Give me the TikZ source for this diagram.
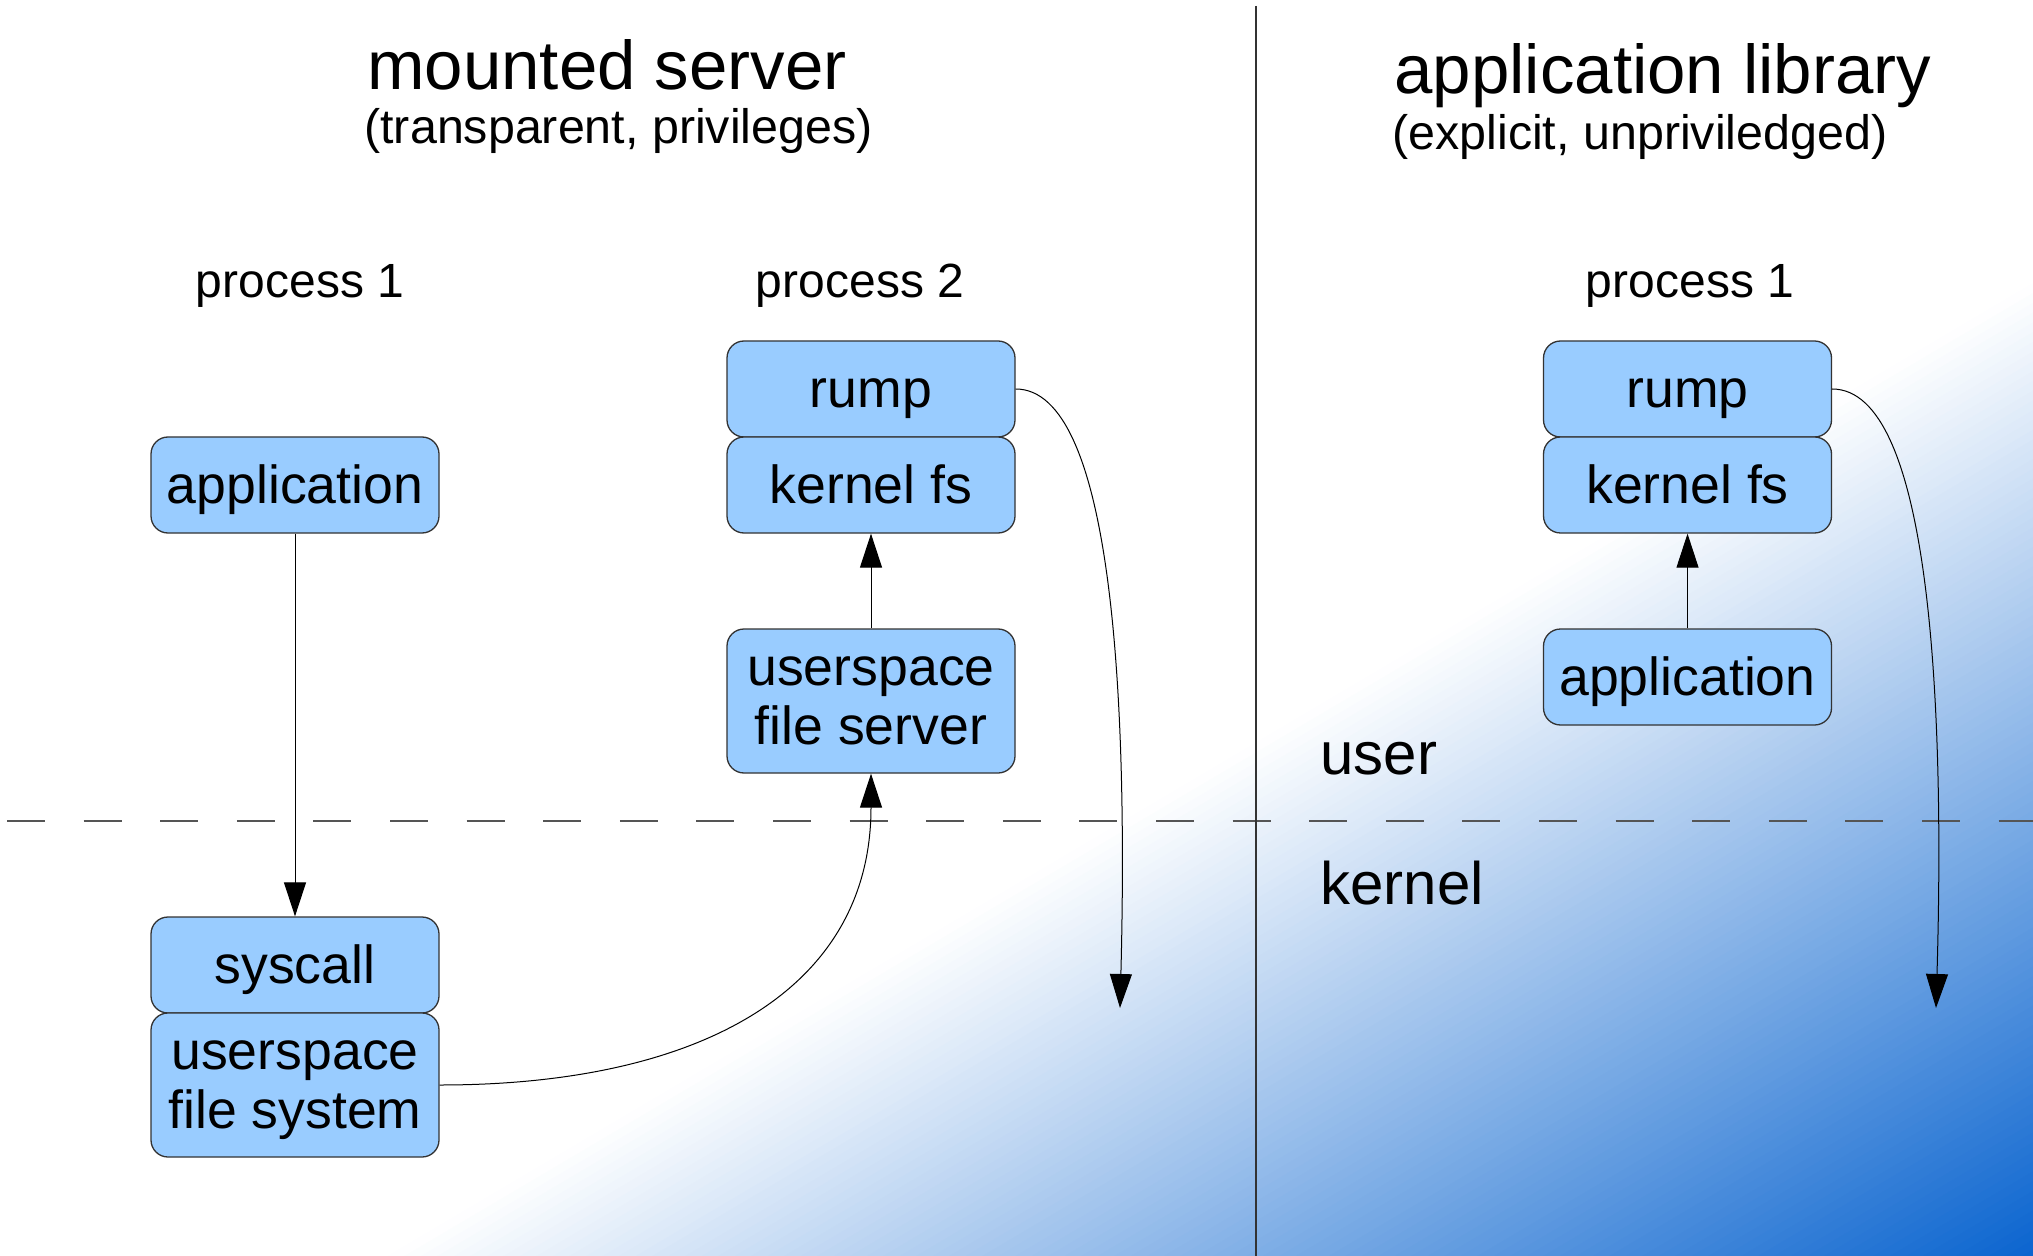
\documentclass[tikz,border=0pt]{standalone}
\usepackage{fontspec}
\setmainfont{Liberation Sans}
\usetikzlibrary{arrows.meta}
\definecolor{boxfill}{HTML}{99CCFF}
\definecolor{boxline}{HTML}{333333}
\definecolor{gblue}{RGB}{10,100,207}
\definecolor{dashgray}{HTML}{555555}
\begin{document}
\begin{tikzpicture}[x=0.5pt,y=-0.5pt,
  box/.style={draw=boxline, line width=0.65pt, fill=boxfill, rounded corners=8.5pt,
    minimum width=144pt, inner sep=0pt, align=center,
    font=\fontsize{26.8}{29.5}\selectfont},
  box1/.style={box, minimum height=48pt, text height=22.5pt, text depth=4.3pt},
  box2/.style={box, minimum height=72pt},
  conn/.style={draw=black, line width=0.5pt},
  arr/.style={conn, -{Triangle[length=17pt,width=11pt]}},
  title/.style={anchor=base west, inner sep=0pt, font=\fontsize{34.5}{40}\selectfont},
  subtitle/.style={anchor=base west, inner sep=0pt, font=\fontsize{24.2}{28}\selectfont},
  proc/.style={anchor=base, inner sep=0pt, font=\fontsize{24}{28}\selectfont},
  layer/.style={anchor=base west, inner sep=0pt, font=\fontsize{30}{34}\selectfont}
]
\useasboundingbox (0,0) rectangle (2033,1256);
\fill[white] (0,0) rectangle (2033,1256);

% diagonal gradient (white -> blue towards lower right)
\begin{scope}
\clip (0,0) rectangle (2033,1256);
\foreach \i in {0,...,99} {
  \pgfmathsetmacro\gda{\i*8.4}
  \pgfmathsetmacro\gdb{\i==99 ? 1100 : (\i+1)*8.4+0.8}
  \pgfmathsetmacro\gpc{\i+0.5}
  \pgfmathsetmacro\pAx{446.6+0.509*\gda-1894}
  \pgfmathsetmacro\pAy{1221.6+0.8608*\gda+1120}
  \pgfmathsetmacro\pBx{446.6+0.509*\gda+1894}
  \pgfmathsetmacro\pBy{1221.6+0.8608*\gda-1120}
  \pgfmathsetmacro\pCx{446.6+0.509*\gdb+1894}
  \pgfmathsetmacro\pCy{1221.6+0.8608*\gdb-1120}
  \pgfmathsetmacro\pDx{446.6+0.509*\gdb-1894}
  \pgfmathsetmacro\pDy{1221.6+0.8608*\gdb+1120}
  \fill[gblue!\gpc!white] (\pAx,\pAy) -- (\pBx,\pBy) -- (\pCx,\pCy) -- (\pDx,\pDy) -- cycle;
}
\end{scope}

% separators
\coordinate (dl) at (7,821);
\coordinate (dr) at (2033,821);
\coordinate (vt) at (1256,6);
\coordinate (vb) at (1256,1256);
\draw[dashgray, line width=0.65pt, dash pattern=on 19pt off 19.3pt] (dl) -- (dr);
\draw[black!80, line width=0.55pt] (vt) -- (vb);

% titles
\node[title] (t1) at (367,90) {mounted server};
\node[subtitle] (s1) at (364,144) {(transparent, privileges)};
\node[title] (t2) at (1394,94) {application library};
\node[subtitle] (s2) at (1392,150) {(explicit, unpriviledged)};

\node[proc] (p1) at (300,298) {process 1};
\node[proc] (p2) at (860,298) {process 2};
\node[proc] (p3) at (1690,298) {process 1};

\node[layer] (user) at (1320,774) {user};
\node[layer] (kern) at (1320,904) {kernel};

% boxes
\node[box1] (app1) at (295,485) {application};
\node[box1] (sys) at (295,965) {syscall};
\node[box2] (ufs) at (295,1085) {\vphantom{fy}userspace\\file system\vphantom{y}};

\node[box1] (rump2) at (871,389) {rump};
\node[box1] (kfs2) at (871,485) {kernel fs};
\node[box2] (usrv) at (871,701) {\vphantom{fy}userspace\\file server\vphantom{y}};

\node[box1] (rump3) at (1687.5,389) {rump};
\node[box1] (kfs3) at (1687.5,485) {kernel fs};
\node[box1] (app3) at (1687.5,677) {application};

% connectors
\coordinate (e2) at (1120,1008);
\coordinate (e3) at (1936,1008);
\draw[arr] (app1.south) -- (sys.north);
\draw[arr] (usrv.north) -- (kfs2.south);
\draw[arr] (app3.north) -- (kfs3.south);
\draw[arr] (ufs.east) .. controls (700,1085) and (871,990) .. (usrv.south);
\draw[arr] (rump2.east) .. controls (1113,389) and (1128,700) .. (e2);
\draw[arr] (rump3.east) .. controls (1930,389) and (1945,700) .. (e3);
\end{tikzpicture}
\end{document}
